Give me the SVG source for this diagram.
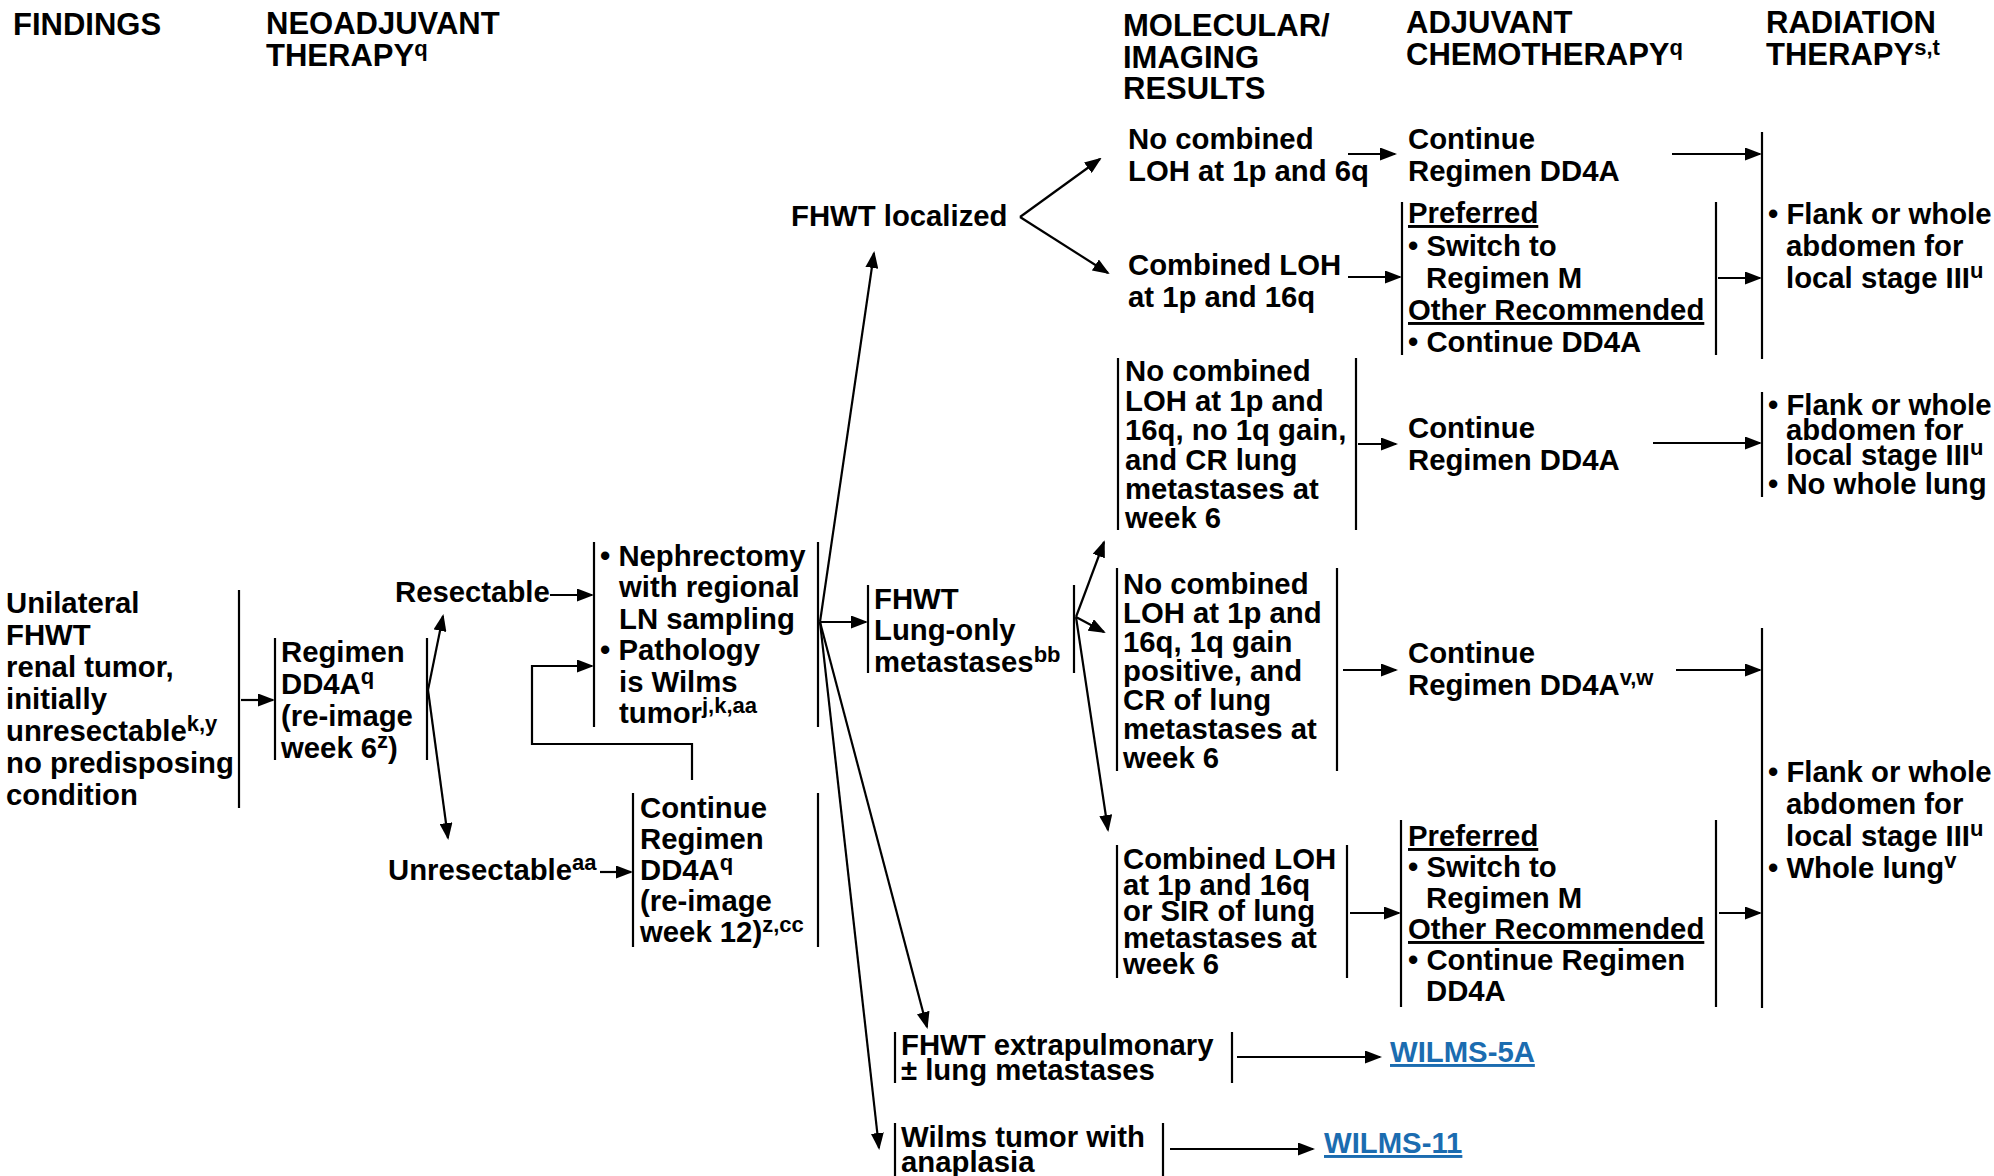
<svg xmlns="http://www.w3.org/2000/svg" width="1994" height="1176" viewBox="0 0 1994 1176">
  <style>
    text { font-family: "Liberation Sans", Arial, Helvetica, sans-serif; font-weight: bold; font-size: 29.3px; fill: #000; }
    .hdr { font-size: 31px; }
    .sup { font-size: 22px; }
    .u { text-decoration: underline; }
    .link { fill: #1b6cb0; text-decoration: underline; }
    .bar { stroke: #000; stroke-width: 2.2; fill: none; }
    .conn line, .conn path { stroke: #000; stroke-width: 2.2; fill: none; }
    .arr { marker-end: url(#ah); }
  </style>
  <defs>
    <marker id="ah" markerUnits="userSpaceOnUse" markerWidth="17" markerHeight="13" refX="15" refY="6.5" orient="auto">
      <path d="M0,0 L17,6.5 L0,13 Z" fill="#000"/>
    </marker>
  </defs>
  <rect width="1994" height="1176" fill="#fff"/>

  <!-- column headings -->
  <g id="headers">
    <text class="hdr" x="13" y="35">FINDINGS</text>
    <text class="hdr"><tspan x="266" y="34">NEOADJUVANT</tspan><tspan x="266" y="66">THERAPY<tspan class="sup" dy="-10">q</tspan></tspan></text>
    <text class="hdr"><tspan x="1123" y="36">MOLECULAR/</tspan><tspan x="1123" y="68">IMAGING</tspan><tspan x="1123" y="99">RESULTS</tspan></text>
    <text class="hdr"><tspan x="1406" y="33">ADJUVANT</tspan><tspan x="1406" y="65">CHEMOTHERAPY<tspan class="sup" dy="-10">q</tspan></tspan></text>
    <text class="hdr"><tspan x="1766" y="33">RADIATION</tspan><tspan x="1766" y="65">THERAPY<tspan class="sup" dy="-10">s,t</tspan></tspan></text>
  </g>

  <!-- findings -->
  <g id="findings">
    <text><tspan x="6" y="613">Unilateral</tspan><tspan x="6" y="645">FHWT</tspan><tspan x="6" y="677">renal tumor,</tspan><tspan x="6" y="709">initially</tspan><tspan x="6" y="741">unresectable<tspan class="sup" dy="-10">k,y</tspan></tspan><tspan x="6" y="773">no predisposing</tspan><tspan x="6" y="805">condition</tspan></text>
    <line class="bar" x1="239" y1="590" x2="239" y2="808"/>
  </g>

  <g id="regimen-dd4a">
    <line class="bar" x1="275" y1="638" x2="275" y2="760"/>
    <text><tspan x="281" y="662">Regimen</tspan><tspan x="281" y="694">DD4A<tspan class="sup" dy="-10">q</tspan></tspan><tspan x="281" y="726">(re-image</tspan><tspan x="281" y="758">week 6<tspan class="sup" dy="-10">z</tspan><tspan dy="10">)</tspan></tspan></text>
    <line class="bar" x1="427" y1="638" x2="427" y2="760"/>
  </g>

  <g id="resectable">
    <text x="395" y="602">Resectable</text>
  </g>

  <g id="unresectable">
    <text x="388" y="880">Unresectable<tspan class="sup" dy="-10">aa</tspan></text>
  </g>

  <g id="nephrectomy">
    <line class="bar" x1="594" y1="542" x2="594" y2="727"/>
    <text><tspan x="600" y="566">• Nephrectomy</tspan><tspan x="619" y="597">with regional</tspan><tspan x="619" y="629">LN sampling</tspan><tspan x="600" y="660">• Pathology</tspan><tspan x="619" y="692">is Wilms</tspan><tspan x="619" y="723">tumor<tspan class="sup" dy="-10">j,k,aa</tspan></tspan></text>
    <line class="bar" x1="818" y1="542" x2="818" y2="727"/>
  </g>

  <g id="continue-dd4a-week12">
    <line class="bar" x1="633" y1="793" x2="633" y2="947"/>
    <text><tspan x="640" y="818">Continue</tspan><tspan x="640" y="849">Regimen</tspan><tspan x="640" y="880">DD4A<tspan class="sup" dy="-10">q</tspan></tspan><tspan x="640" y="911">(re-image</tspan><tspan x="640" y="942">week 12)<tspan class="sup" dy="-10">z,cc</tspan></tspan></text>
    <line class="bar" x1="818" y1="793" x2="818" y2="947"/>
  </g>

  <!-- pathology outcomes -->
  <g id="fhwt-localized">
    <text x="791" y="226">FHWT localized</text>
  </g>

  <g id="lung-only">
    <line class="bar" x1="868" y1="585" x2="868" y2="673"/>
    <text><tspan x="874" y="609">FHWT</tspan><tspan x="874" y="640">Lung-only</tspan><tspan x="874" y="672">metastases<tspan class="sup" dy="-10">bb</tspan></tspan></text>
    <line class="bar" x1="1074" y1="585" x2="1074" y2="673"/>
  </g>

  <g id="extrapulmonary">
    <line class="bar" x1="895" y1="1032" x2="895" y2="1083"/>
    <text><tspan x="901" y="1055">FHWT extrapulmonary</tspan><tspan x="901" y="1080">± lung metastases</tspan></text>
    <line class="bar" x1="1232" y1="1032" x2="1232" y2="1083"/>
  </g>

  <g id="anaplasia">
    <line class="bar" x1="895" y1="1123" x2="895" y2="1176"/>
    <text><tspan x="901" y="1147">Wilms tumor with</tspan><tspan x="901" y="1172">anaplasia</tspan></text>
    <line class="bar" x1="1163" y1="1123" x2="1163" y2="1176"/>
  </g>

  <g id="wilms-5a"><text class="link" x="1390" y="1062">WILMS-5A</text></g>
  <g id="wilms-11"><text class="link" x="1324" y="1153">WILMS-11</text></g>

  <!-- localized: molecular results -->
  <g id="loc-no-loh">
    <text><tspan x="1128" y="149">No combined</tspan><tspan x="1128" y="181">LOH at 1p and 6q</tspan></text>
  </g>
  <g id="loc-loh">
    <text><tspan x="1128" y="275">Combined LOH</tspan><tspan x="1128" y="307">at 1p and 16q</tspan></text>
  </g>

  <!-- lung-only: molecular / imaging results -->
  <g id="lung-no-loh-no-gain">
    <line class="bar" x1="1118" y1="358" x2="1118" y2="530"/>
    <text><tspan x="1125" y="381">No combined</tspan><tspan x="1125" y="411">LOH at 1p and</tspan><tspan x="1125" y="440">16q, no 1q gain,</tspan><tspan x="1125" y="470">and CR lung</tspan><tspan x="1125" y="499">metastases at</tspan><tspan x="1125" y="528">week 6</tspan></text>
    <line class="bar" x1="1356" y1="358" x2="1356" y2="530"/>
  </g>
  <g id="lung-no-loh-gain">
    <line class="bar" x1="1117" y1="568" x2="1117" y2="771"/>
    <text><tspan x="1123" y="594">No combined</tspan><tspan x="1123" y="623">LOH at 1p and</tspan><tspan x="1123" y="652">16q, 1q gain</tspan><tspan x="1123" y="681">positive, and</tspan><tspan x="1123" y="710">CR of lung</tspan><tspan x="1123" y="739">metastases at</tspan><tspan x="1123" y="768">week 6</tspan></text>
    <line class="bar" x1="1337" y1="568" x2="1337" y2="771"/>
  </g>
  <g id="lung-loh-sir">
    <line class="bar" x1="1117" y1="845" x2="1117" y2="978"/>
    <text><tspan x="1123" y="869">Combined LOH</tspan><tspan x="1123" y="895">at 1p and 16q</tspan><tspan x="1123" y="921">or SIR of lung</tspan><tspan x="1123" y="948">metastases at</tspan><tspan x="1123" y="974">week 6</tspan></text>
    <line class="bar" x1="1347" y1="845" x2="1347" y2="978"/>
  </g>

  <!-- adjuvant chemotherapy -->
  <g id="chemo-continue-1">
    <text><tspan x="1408" y="149">Continue</tspan><tspan x="1408" y="181">Regimen DD4A</tspan></text>
  </g>
  <g id="chemo-switch-1">
    <line class="bar" x1="1402" y1="202" x2="1402" y2="355"/>
    <text><tspan class="u" x="1408" y="223">Preferred</tspan><tspan x="1408" y="256">• Switch to</tspan><tspan x="1426" y="288">Regimen M</tspan><tspan class="u" x="1408" y="320">Other Recommended</tspan><tspan x="1408" y="352">• Continue DD4A</tspan></text>
    <line class="bar" x1="1716" y1="202" x2="1716" y2="355"/>
  </g>
  <g id="chemo-continue-2">
    <text><tspan x="1408" y="438">Continue</tspan><tspan x="1408" y="470">Regimen DD4A</tspan></text>
  </g>
  <g id="chemo-continue-3">
    <text><tspan x="1408" y="663">Continue</tspan><tspan x="1408" y="695">Regimen DD4A<tspan class="sup" dy="-10">v,w</tspan></tspan></text>
  </g>
  <g id="chemo-switch-2">
    <line class="bar" x1="1401" y1="820" x2="1401" y2="1007"/>
    <text><tspan class="u" x="1408" y="846">Preferred</tspan><tspan x="1408" y="877">• Switch to</tspan><tspan x="1426" y="908">Regimen M</tspan><tspan class="u" x="1408" y="939">Other Recommended</tspan><tspan x="1408" y="970">• Continue Regimen</tspan><tspan x="1426" y="1001">DD4A</tspan></text>
    <line class="bar" x1="1716" y1="820" x2="1716" y2="1007"/>
  </g>

  <!-- radiation therapy -->
  <g id="rt-localized">
    <line class="bar" x1="1762" y1="132" x2="1762" y2="359"/>
    <text><tspan x="1768" y="224">• Flank or whole</tspan><tspan x="1786" y="256">abdomen for</tspan><tspan x="1786" y="288">local stage III<tspan class="sup" dy="-10">u</tspan></tspan></text>
  </g>
  <g id="rt-no-lung">
    <line class="bar" x1="1762" y1="392" x2="1762" y2="497"/>
    <text><tspan x="1768" y="415">• Flank or whole</tspan><tspan x="1786" y="440">abdomen for</tspan><tspan x="1786" y="465">local stage III<tspan class="sup" dy="-10">u</tspan></tspan><tspan x="1768" y="494">• No whole lung</tspan></text>
  </g>
  <g id="rt-whole-lung">
    <line class="bar" x1="1762" y1="628" x2="1762" y2="1008"/>
    <text><tspan x="1768" y="782">• Flank or whole</tspan><tspan x="1786" y="814">abdomen for</tspan><tspan x="1786" y="846">local stage III<tspan class="sup" dy="-10">u</tspan></tspan><tspan x="1768" y="878">• Whole lung<tspan class="sup" dy="-10">v</tspan></tspan></text>
  </g>

  <!-- connectors -->
  <g id="connectors" class="conn">
    <line class="arr" x1="241" y1="700" x2="273" y2="700"/>
    <line class="arr" x1="428" y1="690" x2="443" y2="616"/>
    <line class="arr" x1="428" y1="690" x2="448" y2="838"/>
    <line class="arr" x1="550" y1="595" x2="592" y2="595"/>
    <line class="arr" x1="600" y1="872" x2="631" y2="872"/>
    <path class="arr" d="M692,780 V744 H532 V666 H592"/>
    <line class="arr" x1="820" y1="622" x2="874" y2="253"/>
    <line class="arr" x1="820" y1="622" x2="866" y2="622"/>
    <line class="arr" x1="820" y1="622" x2="927" y2="1027"/>
    <line class="arr" x1="820" y1="622" x2="879" y2="1148"/>
    <line class="arr" x1="1020" y1="217" x2="1100" y2="159"/>
    <line class="arr" x1="1020" y1="217" x2="1108" y2="273"/>
    <line class="arr" x1="1348" y1="154" x2="1395" y2="154"/>
    <line class="arr" x1="1348" y1="277" x2="1400" y2="277"/>
    <line class="arr" x1="1672" y1="154" x2="1760" y2="154"/>
    <line class="arr" x1="1718" y1="278" x2="1760" y2="278"/>
    <line class="arr" x1="1076" y1="617" x2="1104" y2="542"/>
    <line class="arr" x1="1076" y1="617" x2="1104" y2="632"/>
    <line class="arr" x1="1076" y1="617" x2="1108" y2="830"/>
    <line class="arr" x1="1358" y1="444" x2="1396" y2="444"/>
    <line class="arr" x1="1653" y1="443" x2="1760" y2="443"/>
    <line class="arr" x1="1343" y1="670" x2="1396" y2="670"/>
    <line class="arr" x1="1676" y1="670" x2="1760" y2="670"/>
    <line class="arr" x1="1350" y1="913" x2="1399" y2="913"/>
    <line class="arr" x1="1719" y1="913" x2="1760" y2="913"/>
    <line class="arr" x1="1237" y1="1057" x2="1380" y2="1057"/>
    <line class="arr" x1="1170" y1="1149" x2="1313" y2="1149"/>
  </g>
</svg>
